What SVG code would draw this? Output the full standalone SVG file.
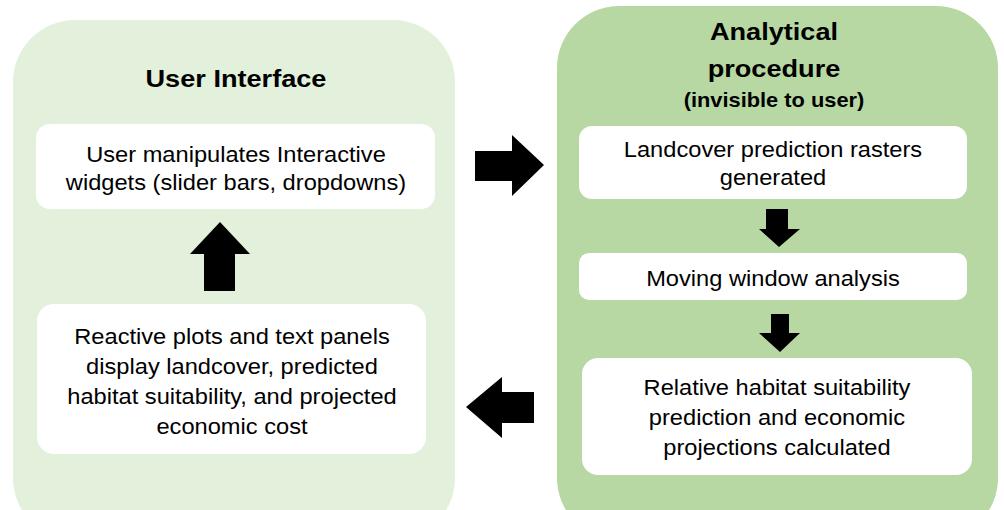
<svg xmlns="http://www.w3.org/2000/svg" width="1004" height="510" viewBox="0 0 1004 510">
<style>
.t{font-family:"Liberation Sans",Arial,sans-serif;font-size:21.5px;fill:#000;text-anchor:middle}
.h{font-family:"Liberation Sans",Arial,sans-serif;font-size:23px;font-weight:bold;fill:#000;text-anchor:middle}
.s{font-family:"Liberation Sans",Arial,sans-serif;font-size:19.5px;font-weight:bold;fill:#000;text-anchor:middle}
.box{fill:#fff}
.arr{fill:#000}
</style>
<rect width="1004" height="510" fill="#fff"/>
<g id="ui-container">
<rect x="13" y="20" width="442" height="520" rx="62" fill="#e3f0dc"/>
<text class="h" x="236" y="87" transform="translate(-42.48,0) scale(1.18,1)">User Interface</text>
</g>
<g id="analytical-container">
<rect x="557" y="6" width="441" height="534" rx="62" fill="#b8d8a3"/>
<g transform="translate(-139.32,0) scale(1.18,1)">
<text class="h" x="774" y="40">Analytical</text>
<text class="h" x="774" y="77">procedure</text>
</g>
<text class="s" x="774" y="107" transform="translate(-92.88,0) scale(1.12,1)">(invisible to user)</text>
</g>
<g id="node-widgets">
<rect class="box" x="36" y="124" width="399" height="85" rx="14"/>
<g transform="translate(-23.6,0) scale(1.1,1)">
<text class="t" x="236" y="162">User manipulates Interactive</text>
<text class="t" x="236" y="190">widgets (slider bars, dropdowns)</text>
</g>
</g>
<g id="node-reactive">
<rect class="box" x="37" y="304" width="389" height="150" rx="17"/>
<g transform="translate(-23.2,0) scale(1.1,1)">
<text class="t" x="232" y="344">Reactive plots and text panels</text>
<text class="t" x="232" y="374">display landcover, predicted</text>
<text class="t" x="232" y="404">habitat suitability, and projected</text>
<text class="t" x="232" y="434">economic cost</text>
</g>
</g>
<g id="node-landcover">
<rect class="box" x="579" y="126" width="388" height="73" rx="13"/>
<g transform="translate(-77.3,0) scale(1.1,1)">
<text class="t" x="773" y="157">Landcover prediction rasters</text>
<text class="t" x="773" y="185">generated</text>
</g>
</g>
<g id="node-moving">
<rect class="box" x="579" y="253" width="388" height="47" rx="10"/>
<text class="t" x="773" y="286" transform="translate(-77.3,0) scale(1.1,1)">Moving window analysis</text>
</g>
<g id="node-relative">
<rect class="box" x="582" y="358" width="390" height="117" rx="16"/>
<g transform="translate(-77.7,0) scale(1.1,1)">
<text class="t" x="777" y="395">Relative habitat suitability</text>
<text class="t" x="777" y="425">prediction and economic</text>
<text class="t" x="777" y="455">projections calculated</text>
</g>
</g>
<g id="connectors">
<polygon class="arr" points="475,151 512,151 512,135 544,165 512,196 512,181 475,181"/>
<polygon class="arr" points="766,209 788,209 788,229 800,229 779,247 759,229 766,229"/>
<polygon class="arr" points="771,314 789,314 789,333 800,333 780,352 759,333 771,333"/>
<polygon class="arr" points="534,392 502,392 502,377 466,407 502,438 502,423 534,423"/>
<polygon class="arr" points="204,291 235,291 235,254 250,254 220,222 190,254 204,254"/>
</g>
</svg>
